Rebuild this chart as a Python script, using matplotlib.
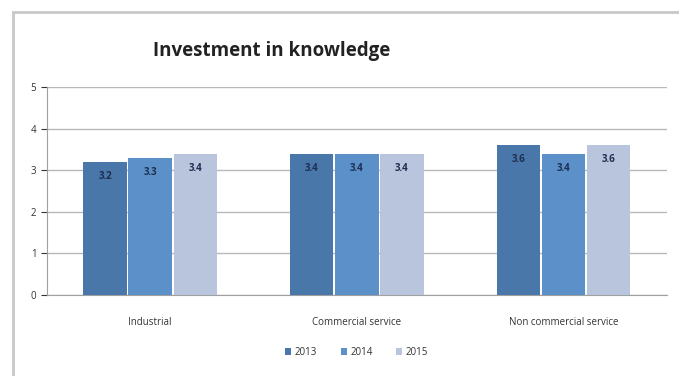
import matplotlib.pyplot as plt
import numpy as np
from matplotlib.patches import Rectangle

categories = ["Industrial", "Commercial service", "Non commercial service"]
years = ["2013", "2014", "2015"]
values_2013 = [3.2, 3.4, 3.6]
values_2014 = [3.3, 3.4, 3.4]
values_2015 = [3.4, 3.4, 3.6]
colors = ["#4a77a9", "#5b90c9", "#b9c5dd"]

plt.rcParams["font.family"] = ["Open Sans", "DejaVu Sans"]

fig = plt.figure(figsize=(6.79, 3.76), dpi=100)
fig.patches.append(Rectangle((0.019, -0.02), 1.0, 0.988, transform=fig.transFigure,
                             fill=False, edgecolor="#c8c8c8", linewidth=2.0))
ax = fig.add_axes([0.069, 0.215, 0.913, 0.554])

x = np.arange(len(categories))
width = 0.21
step = 0.218
series = [values_2013, values_2014, values_2015]
for i, (year, vals) in enumerate(zip(years, series)):
    pos = x + (i - 1) * step
    bars = ax.bar(pos, vals, width, color=colors[i], label=year, zorder=3)
    for b, v in zip(bars, vals):
        ax.text(b.get_x() + b.get_width() / 2, v - 0.35, f"{v:.1f}",
                ha="center", va="center", fontsize=7, color="#1e2f52",
                fontweight="bold", zorder=4)

ax.set_xlim(-0.5, 2.5)
ax.set_ylim(0, 5)
ax.set_yticks(range(6))
ax.set_xticks(x)
ax.set_xticklabels(categories, fontsize=7, color="#333333")
ax.tick_params(axis="y", labelsize=7, colors="#333333", length=4, width=0.8)
ax.tick_params(axis="x", length=0, pad=16)
ax.grid(axis="y", color="#b8b8b8", linewidth=1.0, zorder=0)
for side in ["top", "right"]:
    ax.spines[side].set_visible(False)
ax.spines["left"].set_color("#a0a0a0")
ax.spines["bottom"].set_color("#a0a0a0")

fig.text(0.40, 0.865, "Investment in knowledge", ha="center", va="center",
         fontsize=13.5, fontweight="bold", color="#222222")

ax.legend(loc="center", bbox_to_anchor=(0.50, -0.275), ncol=3, frameon=False,
          fontsize=7, handlelength=0.6, handleheight=0.6, handletextpad=0.4,
          columnspacing=2.4, labelcolor="#333333")

fig.savefig("out.png", dpi=100)
